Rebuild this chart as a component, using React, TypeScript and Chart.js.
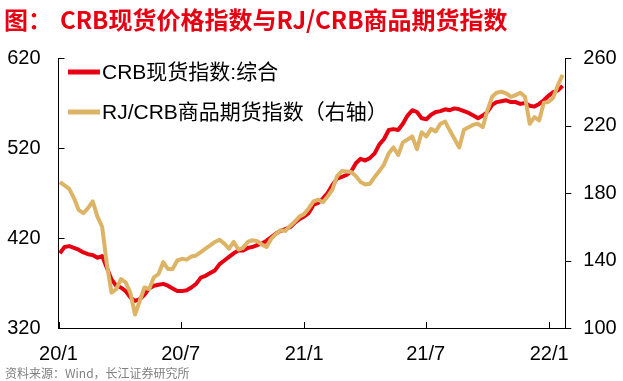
import React, { useEffect, useRef } from "react";
import { Chart, registerables } from "chart.js";

Chart.register(...registerables);

// ---- data (weekly readings, day offsets from 2020-01-01) ----
const firstDay = 2; // 2020-01-03
const stepDays = 7;

const crbSpot = [
  403, 410, 411, 409, 407, 404, 402, 401, 398, 400,
  387, 374, 367, 365, 361, 354, 350, 352, 357, 364,
  367, 368, 369, 367, 364, 361, 361, 362, 365, 369,
  376, 378, 381, 384, 391, 395, 399, 403, 406, 406,
  409, 410, 412, 414, 417, 421, 425, 428, 430, 432,
  437, 441, 444, 448, 457, 459, 464, 470, 479, 486,
  488, 490, 494, 503, 508, 506, 509, 514, 524, 530,
  540, 541, 540, 547, 556, 562, 560, 553, 552, 557,
  560, 561, 563, 562, 564, 563, 561, 559, 556, 553,
  556, 560, 568, 571, 572, 573, 571, 571, 569, 570,
  567, 566, 569, 573, 578, 582, 584, 589,
];

const rjCrb = [
  186.5, 184.5, 182.5, 177, 170, 168, 171, 175, 166, 160,
  138, 121, 123, 129, 127, 121, 108, 116, 124, 123,
  130, 132, 139, 135, 135, 140, 141, 140.5, 142.4, 143,
  145, 147, 149, 151, 152.3, 150, 147, 151, 146.5, 147.5,
  151, 152, 151.5, 149.4, 148, 153, 155.7, 158, 157.5, 160.5,
  163, 166, 167.5, 171, 175, 176, 174.5, 178, 182, 190,
  193, 192.8, 192.5, 190, 186.5, 185, 185.5, 189.5, 193, 197,
  203.5, 207, 202.5, 210, 211.7, 213.5, 206, 216, 213.5, 218,
  216.5, 221, 222.3, 217, 212, 207, 217.5, 219, 220.5, 221,
  219, 229, 237, 239.5, 240, 239, 237, 238, 239.4, 237,
  221, 225, 223, 233.5, 234, 236.5, 244, 250,
];

const xTickDays = [0, 182, 366, 547, 731];
const xTickLabels = ["20/1", "20/7", "21/1", "21/7", "22/1"];
const leftTicks = [320, 420, 520, 620];
const rightTicks = [100, 140, 180, 220, 260];

const titleLead = "图：";
const titleText = "CRB现货价格指数与RJ/CRB商品期货指数";
const seriesNames = ["CRB现货指数:综合", "RJ/CRB商品期货指数（右轴）"];
const sourceText = "资料来源：Wind，长江证券研究所";

const RED = "#E60012";
const TAN = "#DDB466";
const FONT = '"Liberation Sans", "Noto Sans CJK SC", sans-serif';

export default function App() {
  const ref = useRef<HTMLCanvasElement>(null);

  useEffect(() => {
    document.body.style.margin = "0";
    const canvas = ref.current!;
    const days = crbSpot.map((_, k) => firstDay + stepDays * k);

    const overlay = {
      id: "overlay",
      afterDraw(chart: any) {
        const ctx = chart.ctx as CanvasRenderingContext2D;
        const ca = chart.chartArea;
        const sx = chart.scales.x;
        const yl = chart.scales.yL;
        const yr = chart.scales.yR;
        ctx.save();
        // tick marks
        ctx.strokeStyle = "#000";
        ctx.lineWidth = 1;
        ctx.beginPath();
        leftTicks.forEach((v) => {
          const y = Math.round(yl.getPixelForValue(v)) + 0.5;
          ctx.moveTo(ca.left, y);
          ctx.lineTo(ca.left + 6, y);
        });
        rightTicks.forEach((v) => {
          const y = Math.round(yr.getPixelForValue(v)) + 0.5;
          ctx.moveTo(ca.right, y);
          ctx.lineTo(ca.right + 6, y);
        });
        xTickDays.forEach((d) => {
          const x = Math.round(sx.getPixelForValue(d)) + 0.5;
          ctx.moveTo(x, ca.bottom);
          ctx.lineTo(x, ca.bottom - 6);
        });
        ctx.stroke();

        // title
        ctx.fillStyle = RED;
        ctx.font = 'bold 24px "Noto Sans CJK SC", sans-serif';
        ctx.textBaseline = "middle";
        ctx.textAlign = "left";
        ctx.fillText(titleLead, 4, 20);
        ctx.fillText(titleText, 60, 20);

        // legend
        const colors = [RED, TAN];
        const rows = [72, 112];
        ctx.font = `21px ${FONT}`;
        seriesNames.forEach((name, i) => {
          ctx.strokeStyle = colors[i];
          ctx.lineWidth = 5;
          ctx.beginPath();
          ctx.moveTo(68, rows[i]);
          ctx.lineTo(100, rows[i]);
          ctx.stroke();
          ctx.fillStyle = "#000";
          ctx.fillText(name, 102, rows[i] + 1);
        });

        // source
        ctx.fillStyle = "#808080";
        ctx.font = '12px "Noto Sans CJK SC", sans-serif';
        ctx.fillText(sourceText, 5, 373);
        ctx.restore();
      },
    };

    const axisFont = { family: FONT, size: 20 };

    const chart = new Chart(canvas, {
      type: "line",
      data: {
        datasets: [
          {
            label: seriesNames[0],
            data: crbSpot.map((v, i) => ({ x: days[i], y: v })),
            borderColor: RED,
            borderWidth: 4,
            pointRadius: 0,
            tension: 0,
            yAxisID: "yL",
            order: 2,
            borderJoinStyle: "round",
          },
          {
            label: seriesNames[1],
            data: rjCrb.map((v, i) => ({ x: days[i], y: v })),
            borderColor: TAN,
            borderWidth: 4,
            pointRadius: 0,
            tension: 0,
            yAxisID: "yR",
            order: 1,
            borderJoinStyle: "round",
          },
        ],
      },
      options: {
        responsive: false,
        devicePixelRatio: 1,
        animation: false,
        layout: { padding: { top: 58, left: 0, right: 0, bottom: 0 } },
        plugins: {
          legend: { display: false },
          tooltip: { enabled: false },
          title: { display: false },
        },
        scales: {
          x: {
            type: "linear",
            min: 0,
            max: 755,
            grid: { display: false, drawTicks: false },
            border: { display: true, color: "#000", width: 1 },
            ticks: {
              font: axisFont,
              color: "#000",
              padding: 14,
              maxRotation: 0,
              autoSkip: false,
              callback: (v: any) => {
                const i = xTickDays.indexOf(Number(v));
                return i >= 0 ? xTickLabels[i] : "";
              },
            },
            afterBuildTicks: (s: any) => {
              s.ticks = xTickDays.map((d) => ({ value: d }));
            },
            afterFit: (s: any) => {
              s.height = 53;
            },
          },
          yL: {
            type: "linear",
            position: "left",
            min: 320,
            max: 620,
            grid: { display: false, drawTicks: false },
            border: { display: true, color: "#000", width: 1 },
            ticks: { stepSize: 100, font: axisFont, color: "#000", padding: 18 },
            afterFit: (s: any) => {
              s.width = 58.5;
            },
          },
          yR: {
            type: "linear",
            position: "right",
            min: 100,
            max: 260,
            grid: { display: false, drawTicks: false },
            border: { display: true, color: "#000", width: 1 },
            ticks: { stepSize: 40, font: axisFont, color: "#000", padding: 18 },
            afterFit: (s: any) => {
              s.width = 57.7;
            },
          },
        },
      },
      plugins: [overlay],
    } as any);

    return () => chart.destroy();
  }, []);

  return (
    <canvas
      ref={ref}
      width={623}
      height={381}
      style={{ display: "block", width: 623, height: 381 }}
    />
  );
}
